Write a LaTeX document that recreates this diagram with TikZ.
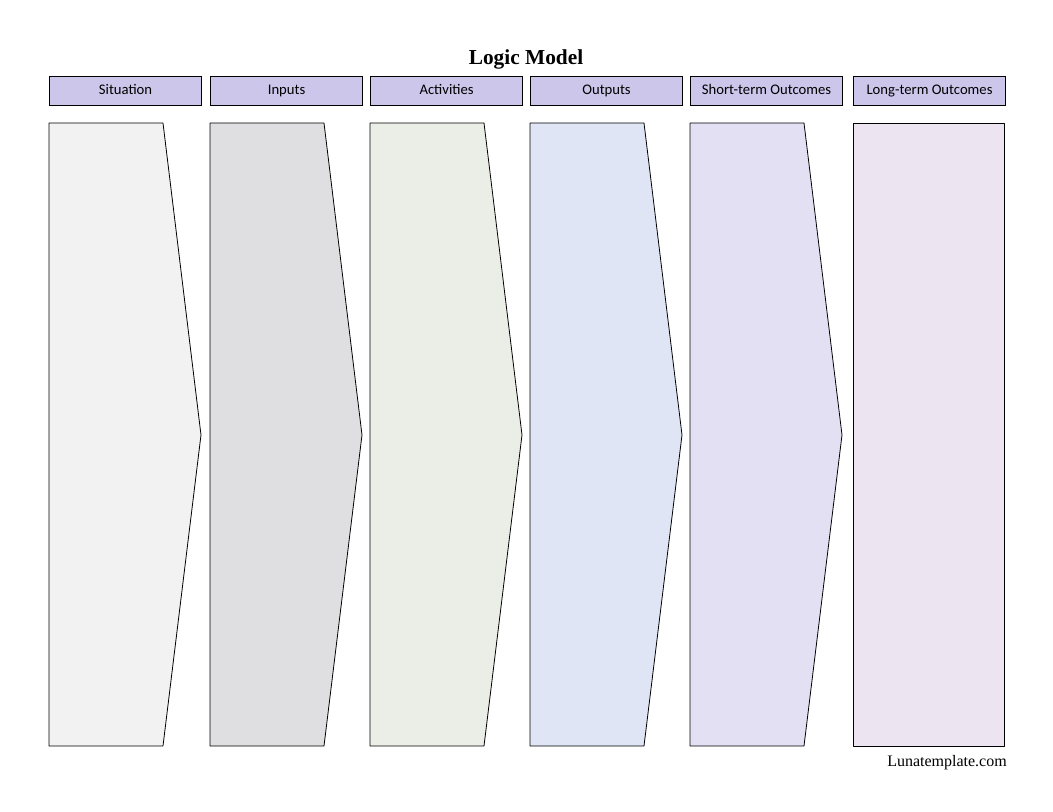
\documentclass[tikz,border=0pt]{standalone}
\usepackage{fontspec}
\setmainfont{Liberation Serif}
\newfontfamily\hdrfont{Carlito}
\begin{document}
\begin{tikzpicture}[x=0.75pt,y=-0.75pt,
  hdr/.style={draw=black,fill=hdrfill,line width=0.8pt,minimum width=152*0.75pt,minimum height=29*0.75pt,inner sep=0pt,text height=7.5pt,text depth=2pt,font=\hdrfont\fontsize{11}{13}\selectfont,anchor=north west},
  chev/.style={draw=black,line width=0.6pt,line join=round}]
\definecolor{hdrfill}{HTML}{CCC6EA}
\definecolor{c1}{HTML}{F2F2F2}
\definecolor{c2}{HTML}{DFDFE1}
\definecolor{c3}{HTML}{EBEEE6}
\definecolor{c4}{HTML}{DFE5F4}
\definecolor{c5}{HTML}{E4E0F4}
\definecolor{c6}{HTML}{ECE4F1}
\useasboundingbox (0,0) rectangle (1053,812);
\node[font=\bfseries\fontsize{16}{18}\selectfont] (title) at (526,59) {Logic Model};
\node[hdr] (h1) at (49,76) {Situation};
\node[hdr] (h2) at (210,76) {Inputs};
\node[hdr] (h3) at (370,76) {Activities};
\node[hdr] (h4) at (530,76) {Outputs};
\node[hdr] (h5) at (690,76) {Short-term Outcomes};
\node[hdr] (h6) at (853,76) {Long-term Outcomes};
\foreach \x/\c in {49/c1,210/c2,370/c3,530/c4,690/c5}{
  \draw[chev,fill=\c] (\x,123) -- (\x+114,123) -- (\x+152,435) -- (\x+114,746) -- (\x,746) -- cycle;
}
\draw[chev,fill=c6] (853,123) rectangle (1004,746);
\node[font=\fontsize{12}{14}\selectfont] (site) at (947,763) {Lunatemplate.com};
\end{tikzpicture}
\end{document}
